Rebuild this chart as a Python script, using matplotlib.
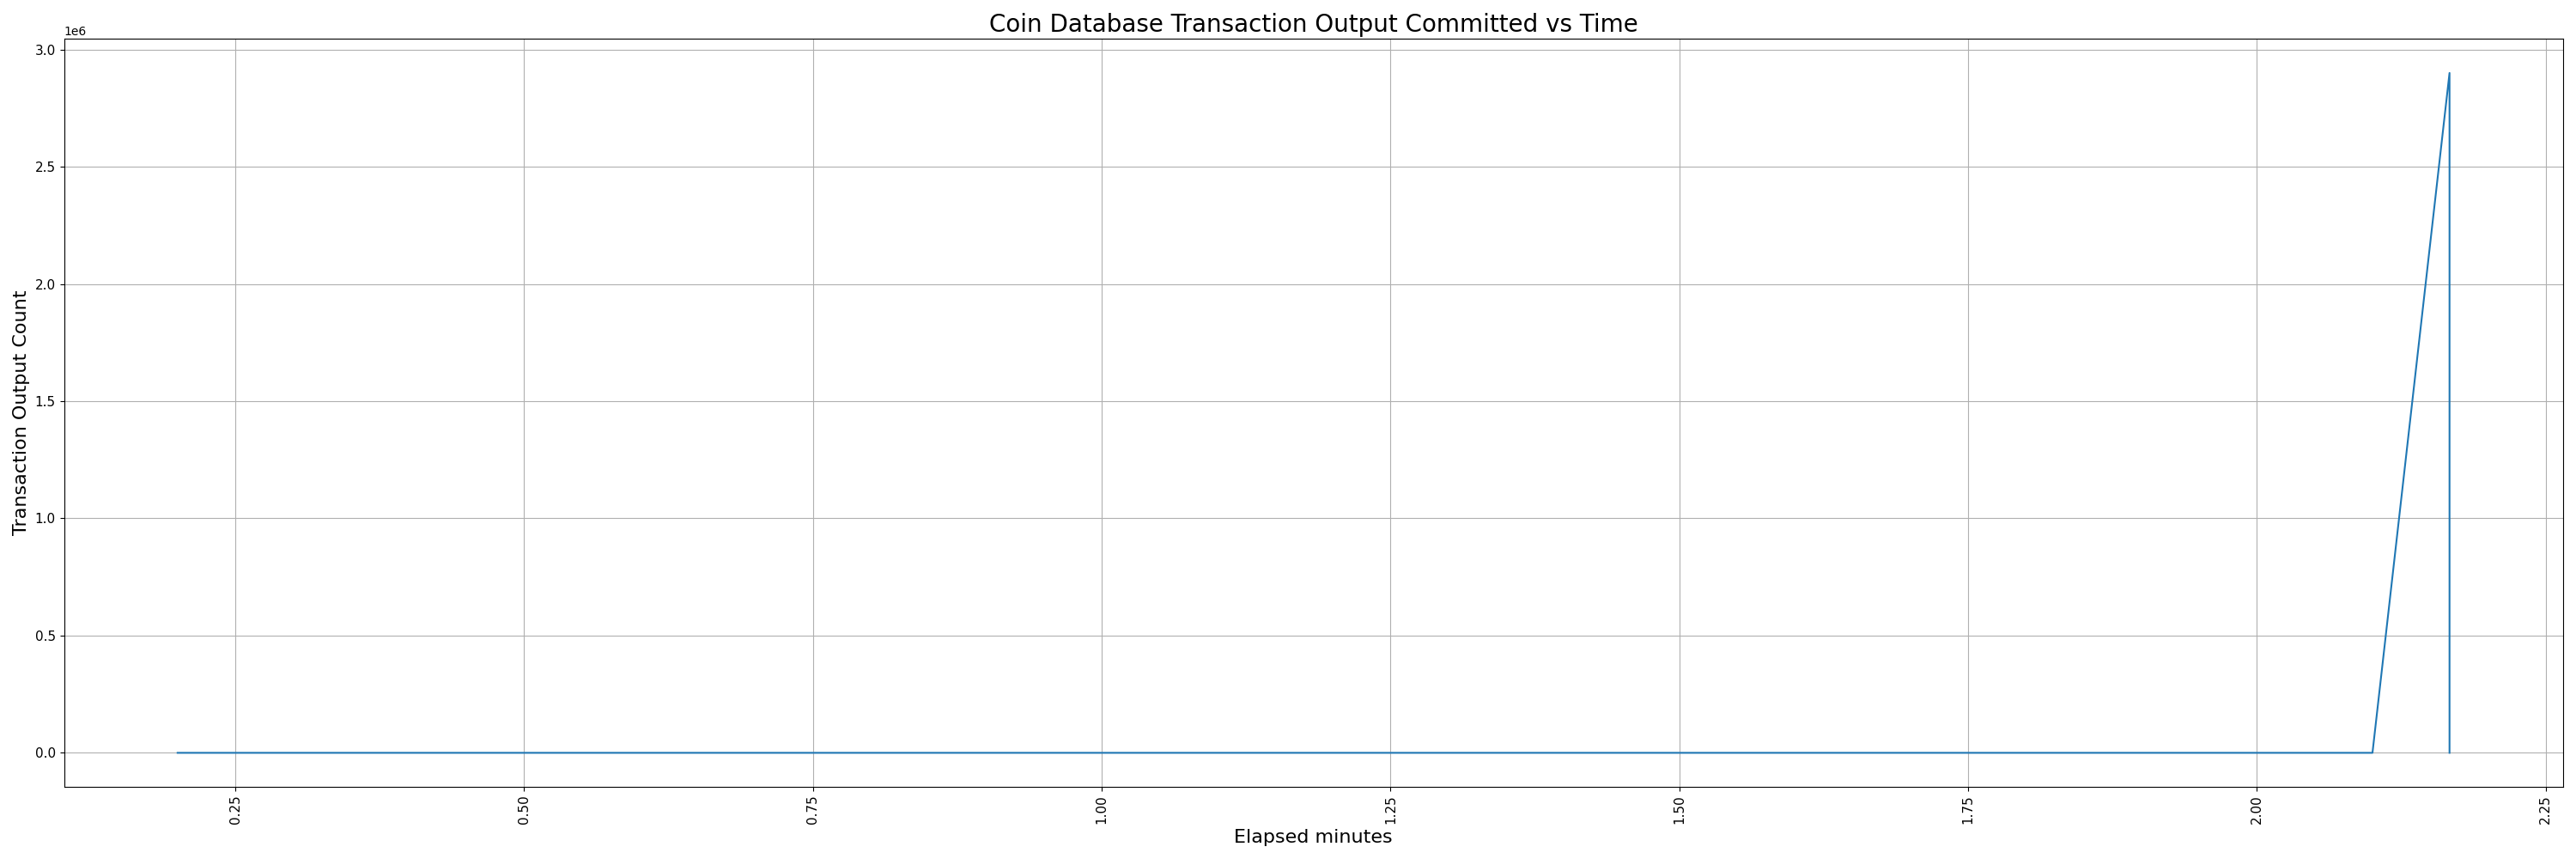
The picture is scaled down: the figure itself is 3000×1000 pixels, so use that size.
import matplotlib
matplotlib.use("Agg")
import matplotlib.pyplot as plt

# elapsed time (minutes) and committed transaction outputs
elapsed_minutes = [0.2, 2.1, 2.1667, 2.1667]
output_count = [0, 0, 2.9e6, 0]

fig, ax = plt.subplots(figsize=(30, 10), dpi=100)
ax.plot(elapsed_minutes, output_count)
ax.set_title("Coin Database Transaction Output Committed vs Time", fontsize=20)
ax.set_xlabel("Elapsed minutes", fontsize=16)
ax.set_ylabel("Transaction Output Count", fontsize=16)
ax.tick_params(axis="both", labelsize=11)
plt.xticks(rotation=90)
ax.grid(True)
fig.tight_layout()
fig.savefig("out.png")
